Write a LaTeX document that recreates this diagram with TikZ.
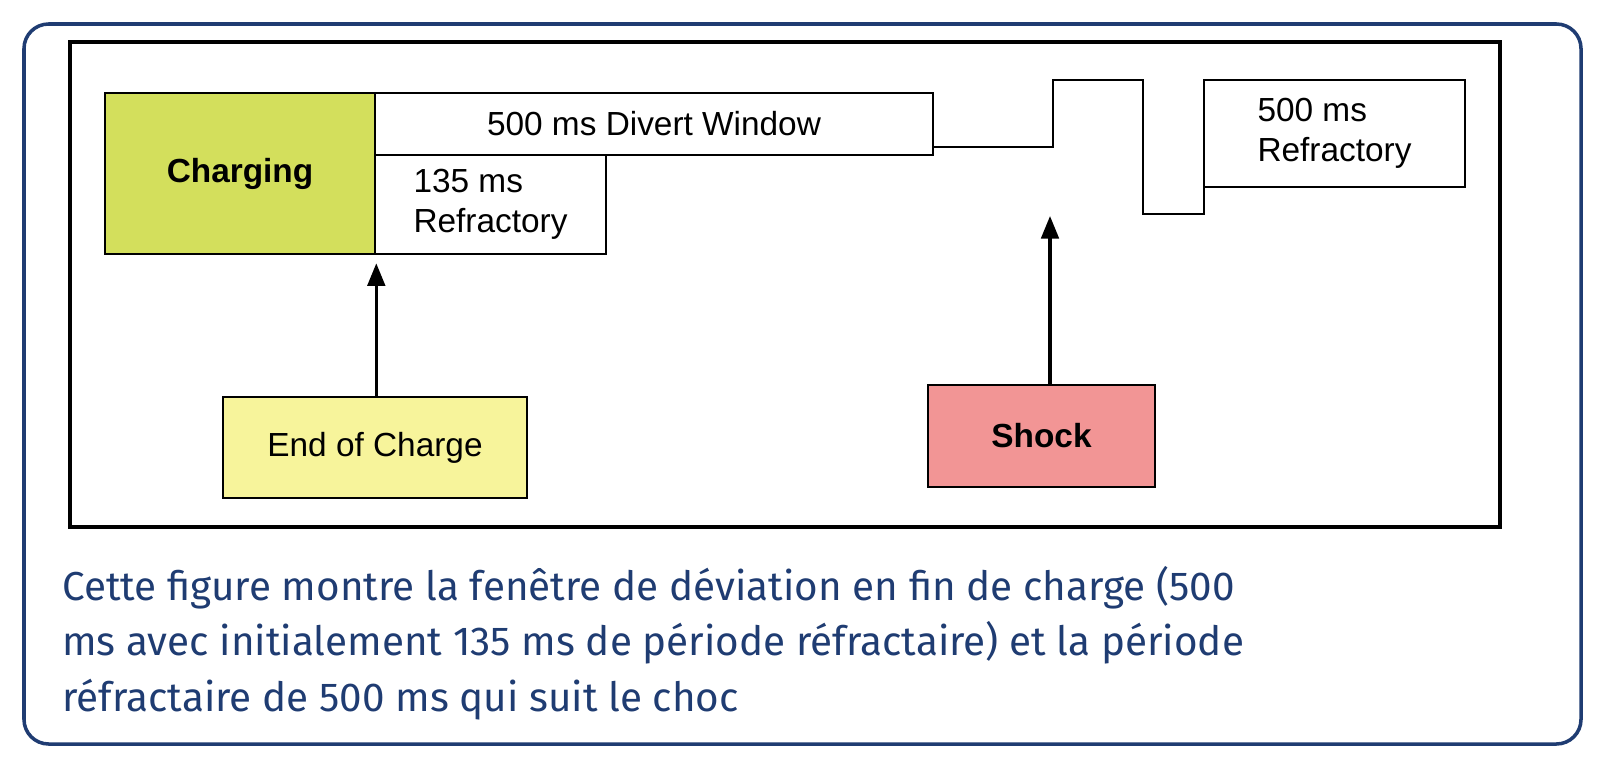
\documentclass[tikz,border=0pt]{standalone}
\usepackage{fontspec}
\setmainfont{Liberation Sans}
\newfontfamily\capfont{Fira Sans}
\usepackage{xcolor}
\definecolor{frameBlue}{HTML}{1F3C72}
\definecolor{chargeGreen}{HTML}{D3DF5C}
\definecolor{endYellow}{HTML}{F7F49B}
\definecolor{shockRed}{HTML}{F29595}
\usetikzlibrary{positioning,calc,arrows.meta}
\tikzset{%
  phaseBox/.style={%
    rectangle,
    draw=black,
    line width=1.5pt,
    inner sep=0pt,
    font=\fontsize{19}{23}\selectfont
  },
  arrowLine/.style={%
    -{Triangle[length=4.5mm,width=3.5mm]},
    line width=1.8pt
  }
}
\begin{document}
\begin{tikzpicture}[x=0.02cm,y=-0.02cm]
    % Outer frame and diagram border
    \draw[frameBlue, line width=2pt, rounded corners=14pt] (24,24) rectangle (1581,744);
    \draw[line width=1.8pt] (70,42) rectangle (1500,527);

    % Charging phase
    \node[phaseBox, fill=chargeGreen, minimum width=5.4cm, minimum height=3.22cm, font=\fontsize{19}{23}\selectfont\bfseries] (charging) at (240,173.5) {Charging};
    \node[phaseBox, minimum width=11.16cm, minimum height=1.24cm] (divert) at (654,124) {500 ms Divert Window};
    \node[phaseBox, minimum width=4.62cm, minimum height=1.98cm, align=left] (refrac1) at (490.5,204.5) {135 ms\\Refractory};

    % Shock refractory
    \node[phaseBox, minimum width=5.22cm, minimum height=2.14cm, align=left] (refrac2) at (1334.5,133.5) {500 ms\\Refractory};
    \coordinate (stepA) at (1053,147);
    \coordinate (stepB) at (1143,214);
    \coordinate (stepC) at (1204,187);
    \draw[line width=1.5pt] (divert.east |- stepA) -- (stepA) |- (1143,80) -- (stepB) -| (stepC);

    % Triggers
    \node[phaseBox, fill=endYellow, minimum width=6.08cm, minimum height=2.02cm] (endCharge) at (375,447.5) {End of Charge};
    \node[phaseBox, fill=shockRed, minimum width=4.54cm, minimum height=2.04cm, font=\fontsize{19}{23}\selectfont\bfseries] (shock) at (1041.5,436) {Shock};
    \coordinate (chargeTip) at ($(charging.south east)+(0,8)$);
    \coordinate (shockTip) at (1050,216);
    \draw[arrowLine] (endCharge.north -| chargeTip) -- (chargeTip);
    \draw[arrowLine] (shock.north -| shockTip) -- (shockTip);

    % Caption
    \node[anchor=north west, inner sep=0pt, align=left, text=frameBlue,
          font=\capfont\fontsize{23}{31.5}\selectfont] (caption) at (62,566)
        {Cette figure montre la fenêtre de déviation en fin de charge (500\\
         ms avec initialement 135 ms de période réfractaire) et la période\\
         réfractaire de 500 ms qui suit le choc};

    \pgfresetboundingbox
    \useasboundingbox (0,0) rectangle (1605,768);
\end{tikzpicture}
\end{document}
